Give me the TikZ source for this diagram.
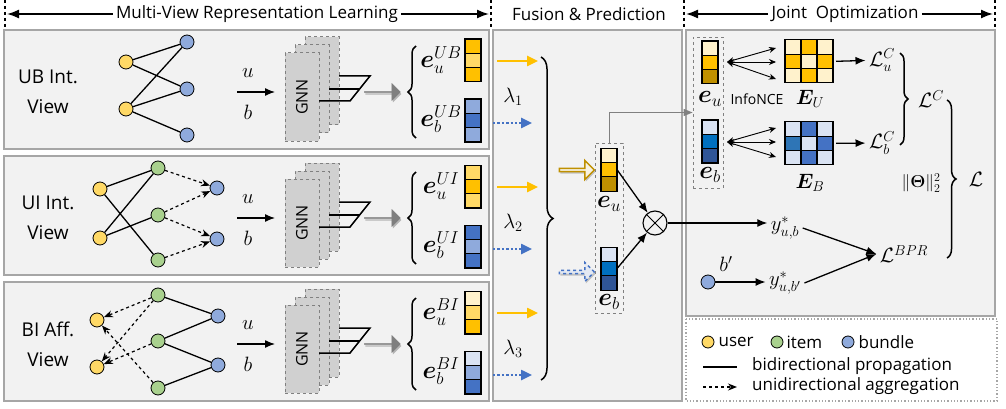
\documentclass[tikz,border=0pt]{standalone}
\usepackage{amsmath}
\usepackage{amssymb}
\usepackage{bm}
\usepackage{fontspec}
\setmainfont{Open Sans}
\usepackage{tikz}
\usetikzlibrary{shapes.geometric, shapes.arrows, positioning, arrows.meta, decorations.pathreplacing, shadows}

\definecolor{uorange}{HTML}{FFC000}
\definecolor{ulight}{HTML}{FFD966}
\definecolor{upale}{HTML}{FFF2CC}
\definecolor{udark}{HTML}{BF9000}
\definecolor{bblue}{HTML}{4472C4}
\definecolor{blight}{HTML}{8FAADC}
\definecolor{bpale}{HTML}{DAE3F3}
\definecolor{bmid}{HTML}{0070C0}
\definecolor{bdark}{HTML}{2F5597}
\definecolor{bsteel}{HTML}{2E75B6}
\definecolor{nyellow}{HTML}{FFD966}
\definecolor{ngreen}{HTML}{A9D18E}
\definecolor{nblue}{HTML}{8FAADC}
\definecolor{panelfill}{HTML}{F2F2F2}
\definecolor{paneldraw}{HTML}{A6A6A6}
\definecolor{gnnfill}{HTML}{D0D0D0}
\definecolor{arrowgray}{HTML}{7F7F7F}

\tikzset{
  panel/.style={draw=paneldraw, line width=1.5pt, fill=panelfill},
  vnode/.style={circle, draw, line width=0.8pt, minimum size=14pt, inner sep=0pt},
  usernode/.style={vnode, fill=nyellow},
  itemnode/.style={vnode, fill=ngreen},
  bundlenode/.style={vnode, fill=nblue},
  prop/.style={line width=1.3pt},
  aggr/.style={line width=1.2pt, dashed, -{Stealth[length=9pt,width=7pt]}},
  cell/.style={draw, line width=1.1pt, minimum width=16pt, minimum height=14.3pt, inner sep=0pt, outer sep=0pt},
  gnnlayer/.style={draw=gray, dashed, line width=1pt, fill=gnnfill, minimum width=34pt, minimum height=88pt},
  fwd/.style={line width=1.3pt, -{Latex[length=10pt,width=8pt]}},
  fan/.style={line width=0.9pt, {Stealth[length=7pt,width=6pt]}-{Stealth[length=7pt,width=6pt]}},
  yarrow/.style={uorange, line width=2.4pt, -{Triangle[length=11pt,width=10pt]}},
  barrow/.style={bblue, line width=2.4pt, dotted, -{Triangle[length=11pt,width=10pt]}},
  blockarrow/.style={single arrow, draw=arrowgray, fill=arrowgray, minimum height=36pt, minimum width=17pt,
    single arrow head extend=3pt, inner sep=0pt, drop shadow={fill=black, opacity=0.25, shadow xshift=1pt, shadow yshift=-2pt}},
  hollow/.style={single arrow, line width=1.5pt, minimum height=35pt, minimum width=19pt,
    single arrow head extend=3.5pt, inner sep=0pt, drop shadow={fill=black, opacity=0.2, shadow xshift=1pt, shadow yshift=-2pt}},
  hdr/.style={font=\fontsize{17}{20}\selectfont},
  hdrarrow/.style={line width=1.6pt, -{Latex[length=12pt,width=9pt]}},
  divider/.style={dashed, line width=1.3pt},
  lbl/.style={font=\fontsize{19}{30}\selectfont, align=center},
  lgd/.style={font=\fontsize{17}{20}\selectfont, inner sep=0pt},
  emb/.style={font=\fontsize{23}{26}\selectfont},
  mth/.style={font=\fontsize{21}{24}\selectfont},
  curly/.style={decorate, decoration={brace, amplitude=#1}, line width=1.5pt},
  curly/.default=8pt,
}

\begin{document}
\begin{tikzpicture}[x=1pt, y=-1pt]
  \useasboundingbox (0,0) rectangle (1006,409);
  % headers
  \draw[divider] (5,0) -- (5,29);
  \draw[divider] (491,0) -- (491,29);
  \draw[divider] (684,0) -- (684,29);
  \draw[divider] (995,0) -- (995,29);
  \node[hdr] (hmv) at (257,14) {Multi-View Representation Learning};
  \draw[hdrarrow] (hmv.west) -- (7,14);
  \draw[hdrarrow] (hmv.east) -- (489,14);
  \node[hdr] (hfp) at (589,14) {Fusion \& Prediction};
  \node[hdr] (hjo) at (845,14) {Joint\ \ Optimization};
  \draw[hdrarrow] (hjo.west) -- (686,14);
  \draw[hdrarrow] (hjo.east) -- (993,14);

  % fusion & prediction
  \draw[panel] (493,30) rectangle (682,401);
  \draw[curly=12pt] (541,57) -- (541,380);
  \node[draw=gray, dashed, line width=0.8pt, minimum width=28pt, minimum height=170pt] (fbox) at (609,228) {};
  \node[cell, fill=upale] (fu1) at (609,155.3) {};
  \node[cell, fill=uorange] (fu2) at (609,169.6) {};
  \node[cell, fill=udark] (fu3) at (609,183.9) {};
  \node[emb] (feu) at (609,204) {$\bm{e}_u$};
  \node[cell, fill=bpale] (fb1) at (609,254.3) {};
  \node[cell, fill=bmid] (fb2) at (609,268.6) {};
  \node[cell, fill=bdark] (fb3) at (609,282.9) {};
  \node[emb] (feb) at (609,302) {$\bm{e}_b$};
  \node[hollow, draw=udark, fill=upale!40!panelfill] (hu) at (576,170) {};
  \node[hollow, draw=bblue, dashed, fill=bpale!60!panelfill] (hb) at (576,272) {};
  \node[circle, draw, line width=1.1pt, minimum size=24pt, inner sep=0pt] (ot) at (655,223) {};
  \draw[line width=1pt] (ot.north west) -- (ot.south east) (ot.north east) -- (ot.south west);
  \draw[fwd] (fu2.east) -- (ot);
  \draw[fwd] (fb2.east) -- (ot);

  % joint optimization
  \draw[panel] (686,30) rectangle (995,316);
  \node[draw=gray, dashed, line width=0.8pt, minimum width=30pt, minimum height=151pt] (jbox) at (708,112.5) {};
  \node[cell, fill=upale] (ju1) at (710,48.2) {};
  \node[cell, fill=uorange] (ju2) at (710,62.5) {};
  \node[cell, fill=udark] (ju3) at (710,76.8) {};
  \node[emb] (jeu) at (710,99) {$\bm{e}_u$};
  \node[cell, fill=bpale] (jb1) at (710,127.2) {};
  \node[cell, fill=bmid] (jb2) at (710,141.5) {};
  \node[cell, fill=bdark] (jb3) at (710,155.8) {};
  \node[emb] (jeb) at (710,175) {$\bm{e}_b$};
  \draw[gray, line width=1pt, -{Triangle[length=9pt,width=7pt]}] (fbox.north) |- (jbox.west);
  \node[font=\fontsize{14}{16}\selectfont] (nce) at (757,99) {InfoNCE};
  \coordinate (jfu) at (727,62);
  \coordinate (jfb) at (727,142);
  \foreach \yy in {48,62,79} \draw[fan] (jfu) -- (776,\yy);
  \foreach \yy in {128,142,157} \draw[fan] (jfb) -- (776,\yy);
  % similarity matrices
  \foreach \r/\cl in {0/{upale,uorange,upale}, 1/{uorange,upale,uorange}, 2/{upale,uorange,upale}}
    \foreach \col [count=\c from 0] in \cl
      \node[cell, fill=\col] (EU-\r-\c) at (793+16*\c,47+14.3*\r) {};
  \foreach \r/\cl in {0/{bpale,bblue,bpale}, 1/{bsteel,bpale,bblue}, 2/{bpale,bblue,bpale}}
    \foreach \col [count=\c from 0] in \cl
      \node[cell, fill=\col] (EB-\r-\c) at (793+16*\c,129+14.3*\r) {};
  \node[mth] (lEU) at (810,99) {$\bm{E}_U$};
  \node[mth] (lEB) at (810,183) {$\bm{E}_B$};
  \node[mth] (lcu) at (882,60) {$\mathcal{L}_u^C$};
  \node[mth] (lcb) at (882,143) {$\mathcal{L}_b^C$};
  \draw[fwd] (EU-1-2.east) ++(3,0) -- (lcu);
  \draw[fwd] (EB-1-2.east) ++(3,0) -- (lcb);
  \draw[curly] (900,53) -- (900,145);
  \node[mth] (lc) at (931,99) {$\mathcal{L}^C$};
  \node[font=\fontsize{17}{20}\selectfont] (reg) at (921,183) {$\lVert\bm{\Theta}\rVert_2^2$};
  \draw[curly=9pt] (947,100) -- (947,258);
  \node[mth] (ltot) at (976,179) {$\mathcal{L}$};
  \node[mth] (yub) at (785,228) {$y^{*}_{u,b}$};
  \node[mth] (yubp) at (785,283) {$y^{*}_{u,b'}$};
  \node[mth] (lbpr) at (904,254) {$\mathcal{L}^{BPR}$};
  \node[bundlenode] (bp) at (708,282) {};
  \node[mth] at (726,264) {$b'$};
  \draw[fwd] (ot.east) -- (ot.east -| yub.west);
  \draw[fwd] (bp) -- (yubp.west |- bp);
  \draw[fwd] (yub.east) -- (lbpr.west);
  \draw[fwd] (yubp.east) -- (lbpr.west);

  % legend
  \draw[paneldraw, dotted, line width=1.3pt] (686,319) rectangle (997,401);
  \node[usernode, minimum size=12pt] (lgu) at (708,342) {};
  \node[lgd, right=4pt of lgu] {user};
  \node[itemnode, minimum size=12pt] (lgi) at (777,342) {};
  \node[lgd, right=3pt of lgi] {item};
  \node[bundlenode, minimum size=12pt] (lgb) at (848,342) {};
  \node[lgd, right=4pt of lgb] {bundle};
  \coordinate (lga) at (703,367);
  \coordinate (lgb2) at (737,367);
  \draw[prop] (lga) -- (lgb2);
  \node[lgd, anchor=west] at (752,366) {bidirectional propagation};
  \coordinate (lgc) at (703,387);
  \coordinate (lgd2) at (737,387);
  \draw[aggr] (lgc) -- (lgd2);
  \node[lgd, anchor=west] at (752,386) {unidirectional aggregation};

  % the three views
  \foreach \t/\v/\la/\k/\ua/\ub/\uc/\ba/\bb/\bc in {30/UB/UB Int./1/uorange/ulight/uorange/blight/bblue/blight,
      156/UI/UI Int./2/ulight/uorange/ulight/bblue/blight/bblue,
      282/BI/BI Aff./3/upale/ulight/uorange/bpale/blight/bblue}{
    \begin{scope}[yshift=-\t pt]
      \draw[panel] (4,0) rectangle (489,119);
      \node[lbl] (lab\v) at (48,62) {\la\\View};
      \coordinate (in\v) at (237,62);
      \coordinate (to\v) at (275,62);
      \draw[fwd] (in\v) -- (to\v);
      \node[mth] at (248,43) {$u$};
      \node[mth] at (248,82) {$b$};
      \node[gnnlayer] (gnnc\v) at (322,51) {};
      \node[gnnlayer] (gnnb\v) at (312,59) {};
      \node[gnnlayer] (gnna\v) at (302,67) {};
      \node[rotate=90, font=\fontsize{16}{18}\selectfont] at (gnna\v) {GNN};
      \draw[line width=1.5pt] (339,46) -- (370,46) -- (350,71) -- (319,71);
      \draw[line width=1.5pt] (329,59) -- (360,59);
      \node[blockarrow] (ga\v) at (382,62) {};
      \draw[curly] (416,108) -- (416,16);
      \node[emb] (eu\v) at (441,30) {$\bm{e}_u^{\v}$};
      \node[emb] (eb\v) at (441,89) {$\bm{e}_b^{\v}$};
      \node[cell, fill=\ua] (u\v1) at (473,16.2) {};
      \node[cell, fill=\ub] (u\v2) at (473,30.5) {};
      \node[cell, fill=\uc] (u\v3) at (473,44.8) {};
      \node[cell, fill=\ba] (b\v1) at (473,76.2) {};
      \node[cell, fill=\bb] (b\v2) at (473,90.5) {};
      \node[cell, fill=\bc] (b\v3) at (473,104.8) {};
      % into fusion
      \draw[yarrow] (497,31) -- (538,31);
      \draw[barrow] (493,93) -- (532,93);
      \node[mth] at (513,67) {$\lambda_\k$};
    \end{scope}
  }

  % UB interaction graph
  \begin{scope}[yshift=-30pt]
    \node[usernode] (ubu1) at (126,32) {};
    \node[usernode] (ubu2) at (126,79) {};
    \node[bundlenode] (ubb1) at (187,12) {};
    \node[bundlenode] (ubb2) at (187,59) {};
    \node[bundlenode] (ubb3) at (187,105) {};
    \draw[prop] (ubu1) -- (ubb1) (ubu1) -- (ubb2) (ubu2) -- (ubb1) (ubu2) -- (ubb2) (ubu2) -- (ubb3);
  \end{scope}
  % UI interaction graph
  \begin{scope}[yshift=-156pt]
    \node[usernode] (uiu1) at (100,33) {};
    \node[usernode] (uiu2) at (100,82) {};
    \node[itemnode] (uii1) at (158,12) {};
    \node[itemnode] (uii2) at (158,59) {};
    \node[itemnode] (uii3) at (158,104) {};
    \node[bundlenode] (uib1) at (217,32) {};
    \node[bundlenode] (uib2) at (217,83) {};
    \draw[prop] (uiu1) -- (uii1) (uiu1) -- (uii3) (uiu2) -- (uii1) (uiu2) -- (uii2);
    \draw[aggr] (uii1) -- (uib1);
    \draw[aggr] (uii2) -- (uib1);
    \draw[aggr] (uii2) -- (uib2);
    \draw[aggr] (uii3) -- (uib2);
  \end{scope}
  % BI affiliation graph
  \begin{scope}[yshift=-282pt]
    \node[usernode] (biu1) at (97,38) {};
    \node[usernode] (biu2) at (97,85) {};
    \node[itemnode] (bii1) at (158,13) {};
    \node[itemnode] (bii2) at (158,59) {};
    \node[itemnode] (bii3) at (158,106) {};
    \node[bundlenode] (bib1) at (218,34) {};
    \node[bundlenode] (bib2) at (218,83) {};
    \draw[prop] (bii1) -- (bib1) (bii2) -- (bib1) (bii2) -- (bib2) (bii3) -- (bib2);
    \draw[aggr] (bii1) -- (biu1);
    \draw[aggr] (bii1) -- (biu2);
    \draw[aggr] (bii2) -- (biu2);
    \draw[aggr] (bii3) -- (biu1);
  \end{scope}
\end{tikzpicture}
\end{document}
